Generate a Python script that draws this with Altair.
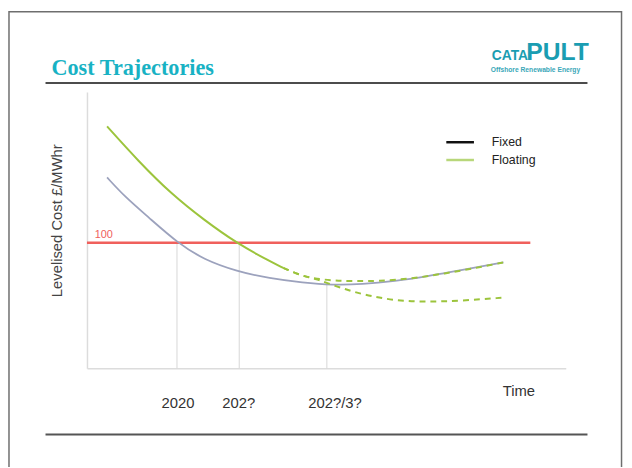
import altair as alt
import pandas as pd

# ---- data (x: time index 0-100, y: levelised cost £/MWhr) ----
fixed_x = [4.2, 8.0, 12.8, 19.0, 24.5, 31.3, 38.1, 45.1, 51.3, 57.5, 64.3, 71.1, 78.1, 87.0]
fixed_y = [151.9, 136.2, 120.4, 99.5, 86.4, 77.2, 71.5, 68.1, 66.2, 66.8, 69.4, 73.3, 78.0, 84.3]

float_x = [4.2, 10.7, 17.6, 24.5, 31.3, 38.2, 41.0]
float_y = [192.5, 165.0, 138.8, 117.9, 99.5, 85.1, 79.9]

float_up_x = [41.0, 45.1, 47.8, 52.0, 56.0, 60.8, 67.8, 74.6, 81.4, 87.0]
float_up_y = [79.9, 73.3, 71.3, 69.6, 69.4, 69.4, 71.3, 75.4, 79.9, 84.3]

float_low_x = [41.0, 45.1, 47.8, 49.9, 54.0, 57.5, 64.3, 71.1, 78.1, 87.0]
float_low_y = [79.9, 73.3, 71.3, 68.1, 62.9, 58.9, 53.7, 52.9, 53.7, 56.3]

threshold = 100
threshold_x = [0, 92.6]

drop_x = [18.8, 31.8, 50.1]
drop_y = [100, 100, 67.5]

tick_values = [18.9, 31.6, 51.7]
tick_labels = ["2020", "202?", "202?/3?"]

legend_labels = ["Fixed", "Floating"]
legend_colors = ["#111111", "#b8d77a"]

FIXED_C = "#9ca2bd"
FLOAT_C = "#9cc43c"
RED = "#f0605c"
TEAL = "#18b2c4"
LOGO = "#1a9db2"

xs = alt.Scale(domain=[0, 100])
ys = alt.Scale(domain=[0, 220])

label_expr = " : ".join(
    f"abs(datum.value - {v}) < 1 ? '{l}'" for v, l in zip(tick_values, tick_labels)
) + " : ''"

x_axis = alt.Axis(
    values=tick_values, labelExpr=label_expr, grid=False, ticks=False,
    domainColor="#dcdcdc", domainWidth=1.5, labelPadding=28,
    labelFont="Liberation Sans", labelFontSize=15, labelColor="#333333",
    title="Time", titleFont="Liberation Sans", titleFontSize=15,
    titleFontWeight="normal", titleColor="#333333",
    titleX=437, titleY=16, titleAlign="center")
y_axis = alt.Axis(
    labels=False, ticks=False, grid=False, domainColor="#dcdcdc", domainWidth=1.5,
    title="Levelised Cost £/MWhr", titleFont="Liberation Sans", titleFontSize=15,
    titleFontWeight="normal", titleColor="#444444",
    titleX=-31, titleY=130, titleAngle=-90, titleAlign="center",
    titleBaseline="middle")


def X(f):
    return alt.X(f, scale=xs, axis=x_axis)


def Y(f):
    return alt.Y(f, scale=ys, axis=y_axis)


fixed_df = pd.DataFrame({"x": fixed_x, "y": fixed_y})
float_df = pd.DataFrame({"x": float_x, "y": float_y})
up_df = pd.DataFrame({"x": float_up_x, "y": float_up_y})
low_df = pd.DataFrame({"x": float_low_x, "y": float_low_y})
drop_df = pd.DataFrame({"x": drop_x, "y": drop_y, "y0": [0] * len(drop_x)})
thr_df = pd.DataFrame({"x": [threshold_x[0]], "x2": [threshold_x[1]], "y": [threshold]})
thr_lab = pd.DataFrame({"x": [1.6], "y": [threshold], "t": [str(threshold)]})
one = alt.Data(values=[{}])

drops = alt.Chart(drop_df).mark_rule(color="#d6d6d6", strokeWidth=1).encode(
    x=X("x:Q"), y=Y("y:Q"), y2="y0:Q")

thr = alt.Chart(thr_df).mark_rule(color=RED, strokeWidth=2.5).encode(
    x=X("x:Q"), x2="x2:Q", y=Y("y:Q"))

thr_text = alt.Chart(thr_lab).mark_text(
    color=RED, fontSize=11, font="Liberation Sans", align="left", baseline="bottom", dy=-3
).encode(x=X("x:Q"), y=Y("y:Q"), text="t:N")

fixed = alt.Chart(fixed_df).mark_line(
    interpolate="basis", color=FIXED_C, strokeWidth=1.8
).encode(x=X("x:Q"), y=Y("y:Q"))

flo = alt.Chart(float_df).mark_line(
    interpolate="basis", color=FLOAT_C, strokeWidth=2
).encode(x=X("x:Q"), y=Y("y:Q"))

up = alt.Chart(up_df).mark_line(
    interpolate="basis", color=FLOAT_C, strokeWidth=2, strokeDash=[6, 5]
).encode(x=X("x:Q"), y=Y("y:Q"))

low = alt.Chart(low_df).mark_line(
    interpolate="basis", color=FLOAT_C, strokeWidth=2, strokeDash=[6, 5]
).encode(x=X("x:Q"), y=Y("y:Q"))

# legend (manual, as drawn on the slide)
leg_layers = []
for i, (lab, col) in enumerate(zip(legend_labels, legend_colors)):
    yy = 51 + i * 18
    leg_layers.append(alt.Chart(one).mark_rule(color=col, strokeWidth=2.5).encode(
        x=alt.value(364), x2=alt.value(392), y=alt.value(yy)))
    leg_layers.append(alt.Chart(one).mark_text(
        text=lab, align="left", baseline="middle", fontSize=12.5,
        font="Liberation Sans", color="#222222").encode(
        x=alt.value(410), y=alt.value(yy)))

# slide decoration
deco = [
    alt.Chart(one).mark_rule(color="#6e6e6e", strokeWidth=1.5).encode(
        x=alt.value(-79), x2=alt.value(542), y=alt.value(-81.2)),
    alt.Chart(one).mark_rule(color="#6e6e6e", strokeWidth=1.5).encode(
        x=alt.value(-79), y=alt.value(-82), y2=alt.value(400)),
    alt.Chart(one).mark_rule(color="#6e6e6e", strokeWidth=1.5).encode(
        x=alt.value(541.5), y=alt.value(-82), y2=alt.value(400)),
    alt.Chart(one).mark_rule(color="#111111", strokeWidth=1.5).encode(
        x=alt.value(-42), x2=alt.value(507), y=alt.value(-9)),
    alt.Chart(one).mark_rule(color="#555555", strokeWidth=2).encode(
        x=alt.value(-42), x2=alt.value(507), y=alt.value(347)),
    alt.Chart(one).mark_text(
        text="Cost Trajectories", align="left", baseline="alphabetic",
        font="Liberation Serif", fontSize=22.5, fontWeight="bold", color=TEAL).encode(
        x=alt.value(-36), y=alt.value(-17)),
    alt.Chart(one).mark_text(
        text="CATA", align="left", baseline="alphabetic",
        font="Liberation Sans", fontSize=14, fontWeight="bold", color=LOGO).encode(
        x=alt.value(410), y=alt.value(-32)),
    alt.Chart(one).mark_text(
        text="PULT", align="left", baseline="alphabetic",
        font="Liberation Sans", fontSize=25, fontWeight="bold", color=LOGO).encode(
        x=alt.value(445), y=alt.value(-32)),
    alt.Chart(one).mark_text(
        text="Offshore Renewable Energy", align="left", baseline="middle",
        font="Liberation Sans", fontSize=6.8, fontWeight="bold", color="#3aa7b8").encode(
        x=alt.value(409), y=alt.value(-22)),
]

chart = alt.layer(
    drops, thr, fixed, up, low, flo, thr_text, *leg_layers, *deco
).properties(
    width=485, height=280, autosize="none", background="white",
    padding={"left": 80, "top": 82, "right": 59, "bottom": 97},
).configure_view(strokeWidth=0)

chart.save("out.html", embed_options={"renderer": "svg", "actions": False})
